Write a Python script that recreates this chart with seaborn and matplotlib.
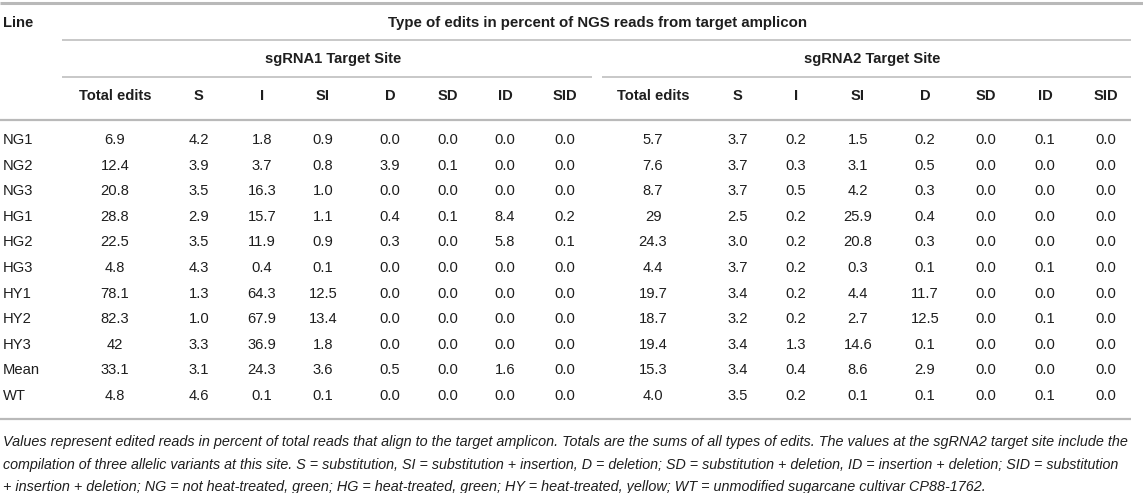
import matplotlib
matplotlib.use("Agg")
import matplotlib.pyplot as plt
import seaborn as sns
import pandas as pd

# row labels and column names
lines = ["NG1", "NG2", "NG3", "HG1", "HG2", "HG3", "HY1", "HY2", "HY3", "Mean", "WT"]
edit_types = ["Total edits", "S", "I", "SI", "D", "SD", "ID", "SID"]

# sgRNA1 target site (values kept as printed in the table)
sg1_total = ["6.9", "12.4", "20.8", "28.8", "22.5", "4.8", "78.1", "82.3", "42", "33.1", "4.8"]
sg1_s = ["4.2", "3.9", "3.5", "2.9", "3.5", "4.3", "1.3", "1.0", "3.3", "3.1", "4.6"]
sg1_i = ["1.8", "3.7", "16.3", "15.7", "11.9", "0.4", "64.3", "67.9", "36.9", "24.3", "0.1"]
sg1_si = ["0.9", "0.8", "1.0", "1.1", "0.9", "0.1", "12.5", "13.4", "1.8", "3.6", "0.1"]
sg1_d = ["0.0", "3.9", "0.0", "0.4", "0.3", "0.0", "0.0", "0.0", "0.0", "0.5", "0.0"]
sg1_sd = ["0.0", "0.1", "0.0", "0.1", "0.0", "0.0", "0.0", "0.0", "0.0", "0.0", "0.0"]
sg1_id = ["0.0", "0.0", "0.0", "8.4", "5.8", "0.0", "0.0", "0.0", "0.0", "1.6", "0.0"]
sg1_sid = ["0.0", "0.0", "0.0", "0.2", "0.1", "0.0", "0.0", "0.0", "0.0", "0.0", "0.0"]

# sgRNA2 target site
sg2_total = ["5.7", "7.6", "8.7", "29", "24.3", "4.4", "19.7", "18.7", "19.4", "15.3", "4.0"]
sg2_s = ["3.7", "3.7", "3.7", "2.5", "3.0", "3.7", "3.4", "3.2", "3.4", "3.4", "3.5"]
sg2_i = ["0.2", "0.3", "0.5", "0.2", "0.2", "0.2", "0.2", "0.2", "1.3", "0.4", "0.2"]
sg2_si = ["1.5", "3.1", "4.2", "25.9", "20.8", "0.3", "4.4", "2.7", "14.6", "8.6", "0.1"]
sg2_d = ["0.2", "0.5", "0.3", "0.4", "0.3", "0.1", "11.7", "12.5", "0.1", "2.9", "0.1"]
sg2_sd = ["0.0", "0.0", "0.0", "0.0", "0.0", "0.0", "0.0", "0.0", "0.0", "0.0", "0.0"]
sg2_id = ["0.1", "0.0", "0.0", "0.0", "0.0", "0.1", "0.0", "0.1", "0.0", "0.0", "0.1"]
sg2_sid = ["0.0", "0.0", "0.0", "0.0", "0.0", "0.0", "0.0", "0.0", "0.0", "0.0", "0.0"]

title = "Type of edits in percent of NGS reads from target amplicon"
site_names = ["sgRNA1 Target Site", "sgRNA2 Target Site"]
footnote = [
    "Values represent edited reads in percent of total reads that align to the target amplicon. "
    "Totals are the sums of all types of edits. The values at the sgRNA2 target site include the",
    "compilation of three allelic variants at this site. S = substitution, SI = substitution + insertion, "
    "D = deletion; SD = substitution + deletion, ID = insertion + deletion; SID = substitution",
    "+ insertion + deletion; NG = not heat-treated, green; HG = heat-treated, green; "
    "HY = heat-treated, yellow; WT = unmodified sugarcane cultivar CP88-1762.",
]

sg1 = pd.DataFrame(dict(zip(edit_types, [sg1_total, sg1_s, sg1_i, sg1_si, sg1_d, sg1_sd, sg1_id, sg1_sid])), index=lines)
sg2 = pd.DataFrame(dict(zip(edit_types, [sg2_total, sg2_s, sg2_i, sg2_si, sg2_d, sg2_sd, sg2_id, sg2_sid])), index=lines)

# layout, in pixels of the 1143x493 picture
col_x = [[115, 199, 262, 323, 390, 448, 505, 565],
         [653, 738, 796, 858, 925, 986, 1045, 1106]]
row_y0, row_dy = 140, 25.6
right = 1131
grey = "#b9b9b9"
ink = "#1e1e1e"
fs = 10.6

sns.set_theme(style="white")
plt.rcParams["font.family"] = ["Liberation Sans", "DejaVu Sans"]

fig = plt.figure(figsize=(11.43, 4.93), dpi=100)
ax = fig.add_axes([0, 0, 1, 1])
ax.set_xlim(0, 1143)
ax.set_ylim(493, 0)
ax.axis("off")

def hline(x0, x1, y, lw):
    ax.plot([x0, x1], [y, y], color=grey, lw=lw, solid_capstyle="butt")

# rules
hline(0, 1143, 3, 2.2)
hline(62, right, 40, 1.1)
hline(62, 592, 77, 1.1)
hline(602, right, 77, 1.1)
hline(0, right, 120, 1.6)

# header texts
ax.text(3, 23, "Line", ha="left", va="center", fontsize=fs, fontweight="bold", color=ink)
ax.text(597, 23, title, ha="center", va="center", fontsize=fs + 0.2, fontweight="bold", color=ink)
for k, name in enumerate(site_names):
    xs = col_x[k]
    ax.text((xs[0] + xs[-1]) / 2 - 7, 59, name, ha="center", va="center",
            fontsize=fs, fontweight="bold", color=ink)
    for x, c in zip(xs, edit_types):
        ax.text(x, 96, c, ha="center", va="center", fontsize=fs, fontweight="bold", color=ink)

# body
for r, name in enumerate(lines):
    y = row_y0 + r * row_dy
    ax.text(3, y, name, ha="left", va="center", fontsize=fs, color=ink)
    for k, df in enumerate([sg1, sg2]):
        for x, c in zip(col_x[k], edit_types):
            ax.text(x, y, df.loc[name, c], ha="center", va="center", fontsize=fs, color=ink)

y_bottom = row_y0 + 10 * row_dy + 23
hline(0, right, y_bottom, 1.6)

# footnote: the two full lines are sized to reach the right rule end
renderer = fig.canvas.get_renderer()
base = 10.3
target = right - 12
sizes = []
for i, line in enumerate(footnote):
    t = ax.text(3, y_bottom + 27 + i * 22.5, line, fontsize=base, style="italic",
                color=ink, va="baseline", ha="left")
    if i < len(footnote) - 1:
        w = t.get_window_extent(renderer).width
        t.set_fontsize(base * (target - 3) / w)
        sizes.append(base * (target - 3) / w)
    else:
        t.set_fontsize(sum(sizes) / len(sizes))

fig.savefig("out.png", dpi=100)
